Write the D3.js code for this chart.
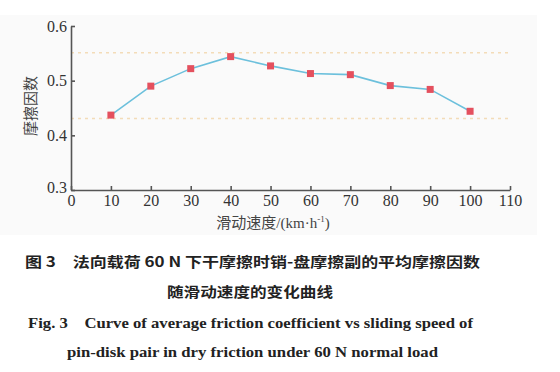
<!DOCTYPE html>
<html>
<meta charset="utf-8">
<style>
  body { margin: 0; background: #fff; }
  .axis path, .axis line { stroke: #555; stroke-width: 1.6; }
  text { white-space: pre; }
</style>
<body>
  <script src="https://d3js.org/d3.v7.min.js"></script>
  <script>
    let width = 560,
      height = 372;

    // data
    let speeds = [10, 20, 30, 40, 50, 60, 70, 80, 90, 100];
    let friction = [0.437, 0.490, 0.522, 0.544, 0.527, 0.513, 0.511, 0.491, 0.484, 0.444];
    let refLines = [0.551, 0.431];
    let xTicks = [0, 10, 20, 30, 40, 50, 60, 70, 80, 90, 100, 110];
    let yTicks = [0.3, 0.4, 0.5, 0.6];

    let serif = "Liberation Serif, DejaVu Serif, serif";
    let cjk = "Noto Sans CJK SC, sans-serif";

    let svg = d3.select("body").append("svg")
      .attr("width", width)
      .attr("height", height);

    // faint scan background
    svg.append("rect")
      .attr("x", 0).attr("y", 15)
      .attr("width", 537).attr("height", 220)
      .attr("fill", "#fafafa");

    let x = d3.scaleLinear().domain([0, 110]).range([71, 510]);
    let y = d3.scaleLinear().domain([0.3, 0.6]).range([190, 26]);

    // reference dashed lines
    svg.selectAll(".ref")
      .data(refLines)
      .join("line")
      .attr("class", "ref")
      .attr("x1", x(0)).attr("x2", x(109.5))
      .attr("y1", d => y(d)).attr("y2", d => y(d))
      .attr("stroke", "#f3dcb8")
      .attr("stroke-width", 1.5)
      .attr("stroke-dasharray", "3,4");

    // axes
    let xAxis = svg.append("g")
      .attr("class", "axis")
      .attr("transform", `translate(0,${y(0.3)})`)
      .call(d3.axisBottom(x).tickValues(xTicks).tickSize(-4).tickPadding(5).tickSizeOuter(0));
    xAxis.attr("font-family", serif).attr("font-size", 16);
    xAxis.selectAll(".tick text").attr("fill", "#333");

    let yAxis = svg.append("g")
      .attr("class", "axis")
      .attr("transform", `translate(${x(0)},0)`)
      .call(d3.axisLeft(y).tickValues(yTicks).tickFormat(d3.format(".1f")).tickSize(-4).tickPadding(4).tickSizeOuter(0));
    yAxis.attr("font-family", serif).attr("font-size", 16);
    yAxis.selectAll(".tick text").attr("fill", "#333");
    yAxis.selectAll(".tick").filter(d => d === 0.3).select("text").attr("dy", "0.15em");

    // line
    let pts = speeds.map((s, i) => [s, friction[i]]);
    svg.append("path")
      .datum(pts)
      .attr("fill", "none")
      .attr("stroke", "#6cc0dc")
      .attr("stroke-width", 1.6)
      .attr("d", d3.line().x(d => x(d[0])).y(d => y(d[1])));

    svg.selectAll(".marker")
      .data(pts)
      .join("rect")
      .attr("class", "marker")
      .attr("x", d => x(d[0]) - 3.5)
      .attr("y", d => y(d[1]) - 3.5)
      .attr("width", 7).attr("height", 7)
      .attr("fill", "#e4505e");

    // axis titles
    svg.append("text")
      .attr("transform", "translate(29,106) rotate(-90)")
      .attr("text-anchor", "middle")
      .attr("dominant-baseline", "central")
      .attr("font-family", cjk)
      .attr("font-size", 15)
      .attr("fill", "#444")
      .text("摩擦因数");

    let xl = svg.append("text")
      .attr("x", 273).attr("y", 228)
      .attr("text-anchor", "middle")
      .attr("font-size", 15)
      .attr("fill", "#444");
    xl.append("tspan").attr("font-family", cjk).text("滑动速度");
    xl.append("tspan").attr("font-family", serif).text("/(km·h");
    xl.append("tspan").attr("font-family", serif).attr("font-size", 9).attr("dy", -6).text("-1");
    xl.append("tspan").attr("font-family", serif).attr("dy", 6).text(")");

    // caption
    let caps = [
      { t: "图 3　法向载荷 60 N 下干摩擦时销-盘摩擦副的平均摩擦因数", x: 25, y: 267, w: 455, cjk: true },
      { t: "随滑动速度的变化曲线", x: 167, y: 297, w: 166, cjk: true },
      { t: "Fig. 3    Curve of average friction coefficient vs sliding speed of", x: 28, y: 328, w: 445, cjk: false },
      { t: "pin-disk pair in dry friction under 60 N normal load", x: 67, y: 357, w: 371, cjk: false }
    ];
    svg.selectAll(".cap")
      .data(caps)
      .join("text")
      .attr("class", "cap")
      .attr("x", d => d.x).attr("y", d => d.y)
      .attr("textLength", d => d.w)
      .attr("lengthAdjust", "spacingAndGlyphs")
      .attr("font-family", d => d.cjk ? cjk : serif)
      .attr("font-weight", "bold")
      .attr("font-size", d => d.cjk ? 14 : 15)
      .attr("fill", "#222")
      .text(d => d.t);
  </script>
</body>
</html>
